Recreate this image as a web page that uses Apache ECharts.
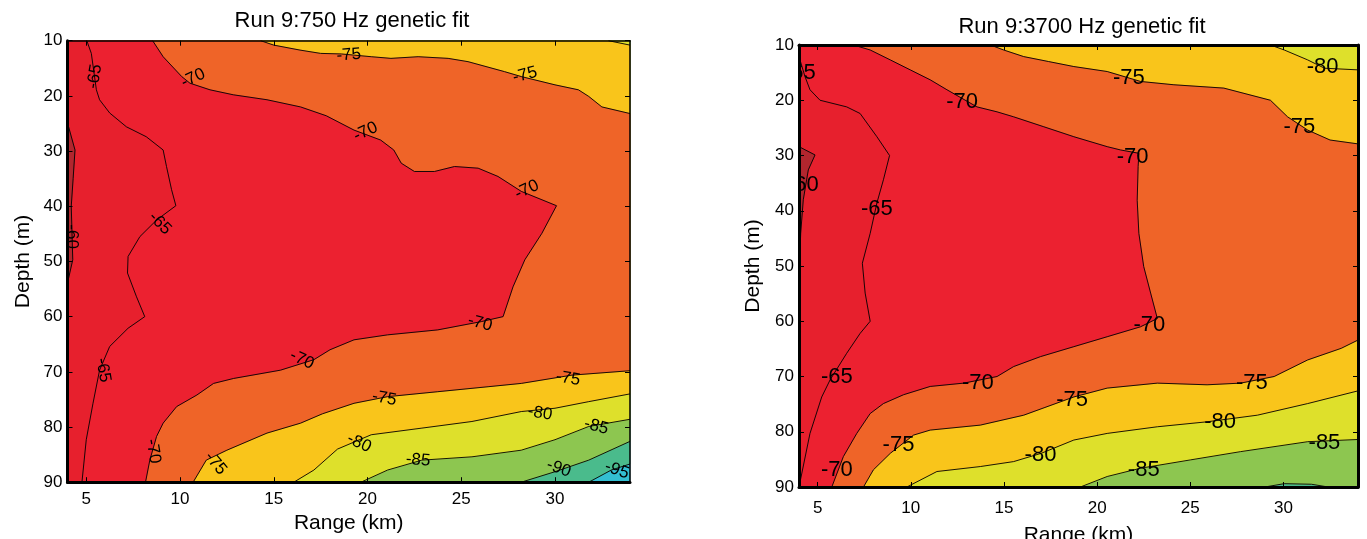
<!DOCTYPE html>
<html><head><meta charset="utf-8">
<script src="https://cdn.jsdelivr.net/npm/echarts@6/dist/echarts.min.js"></script>
<style>html,body{margin:0;padding:0;background:#fff}#c{width:1367px;height:539px}</style>
</head><body><div id="c"></div>
<script>
// ---------- axes ----------
const XMIN = 4, XMAX = 34, YMIN = 10, YMAX = 90;
const xTicks = [5, 10, 15, 20, 25, 30];
const titles = ['Run 9:750 Hz genetic fit', 'Run 9:3700 Hz genetic fit'];

// ---------- left panel (750 Hz) contour lines [range km, depth m] ----------
const A_m60 = [[4,24.9],[4.4,29.8],[4.3,35],[4.2,40],[4.28,49.7],[4,53.9]];
const A_m65 = [[5.03,10],[5.27,12.3],[5.54,18.9],[5.71,20.7],[6.25,23.1],[7.14,25.6],[8.2,27.4],[9.1,29.8],[9.28,32.8],[9.55,37],[9.78,39.9],[8.75,42.5],[7.86,45.5],[7.23,49.1],[7.2,52.1],[7.68,56.4],[8.12,60],[7.23,62.1],[6.25,65.4],[5.71,69.7],[5.36,75.7],[5,82.3],[4.77,90]];
const A_m70 = [[8.54,10],[9.1,12.9],[10.09,16.5],[10.53,17.7],[11.6,18.9],[12.84,19.8],[14.64,20.7],[16.43,22],[17.8,23.6],[19.28,26.2],[20.7,28],[21.4,29.8],[21.8,32.2],[22.5,33.7],[23.57,33.7],[24.64,32.8],[25.9,33.1],[26.96,34.6],[28.2,37.3],[30.08,39.9],[29.3,44.9],[28.39,49.7],[27.76,54.6],[27.23,60],[26.07,60.9],[23.75,62.4],[21.07,63.3],[19.28,64.2],[18.0,66.0],[17.14,67.8],[15.36,69.7],[12.86,71.2],[11.79,72.1],[10.9,74.2],[9.82,76.3],[9.1,79.3],[8.75,81.7],[8.39,86],[8.16,90]];
const A_m75u = [[14.3,10],[15,10.8],[16.4,11.7],[17.5,12.3],[18.6,12.4],[20.2,12.9],[21.25,13.2],[22.7,12.9],[24.3,13.2],[25.36,13.8],[27.3,15.6],[28.2,16.5],[30,18],[31.25,18.9],[31.8,20.1],[32.5,22],[34,23.2]];
const A_m75l = [[10.7,90],[11.4,86],[12.5,84.2],[14.64,81.1],[16.43,79.3],[17.6,77.6],[19.28,75.7],[21.07,74.5],[23.75,73.6],[26.43,72.7],[28.2,72.1],[30.9,70.6],[34,69.8]];
const A_m80u = [[32.85,10],[34,10.8]];
const A_m80l = [[16.07,90],[17.14,87.8],[18.4,84],[20.2,81.4],[22.9,80.2],[25.57,79],[28.2,77.2],[30,76.6],[31.8,75.4],[34,74]];
const A_m85 = [[19.65,90],[21.07,87.8],[22.9,86],[25.57,85.4],[28.2,84.2],[30,82.3],[31.8,79.9],[34,78.6]];
const A_m90 = [[28.2,90],[30,88.1],[31.8,86],[34,82.6]];
const A_m95 = [[31.8,90],[33,87.8],[34,86.7]];
const A_labels = [[5.45,16.5,'-65'],[10.7,16.8,'-70'],[19,12.6,'-75'],[28.4,16.2,'-75'],[19.9,26.5,'-70'],[28.5,37,'-70'],[8.93,43.1,'-65'],[4.2,45.5,'-60'],[5.9,69.7,'-65'],[8.57,84.4,'-70'],[11.9,86.6,'-75'],[16.5,67.8,'-70'],[26,61.2,'-70'],[20.9,74.8,'-75'],[30.7,71.2,'-75'],[19.55,82.9,'-80'],[29.2,77.5,'-80'],[22.7,86,'-85'],[32.2,79.9,'-85'],[30.2,87.5,'-90'],[33.3,87.8,'-95']];
const A_labelAngles = [80,25,5,15,25,25,-45,-90,-80,-80,-50,-25,-15,-10,-10,-25,-10,-5,-15,-20,-20];

// ---------- right panel (3700 Hz) contour lines ----------
const B_m60 = [[4,28.4],[4.86,29.9],[4.5,32.6],[4.23,38],[4.09,44.1],[4.02,50.7],[4,55]];
const B_m65 = [[4,12.1],[4.32,15.7],[4.59,18.1],[5.13,20],[6.56,21.2],[7.28,22.4],[8.18,26.6],[8.86,30],[8.53,34.4],[8.18,38.6],[7.82,44.1],[7.4,49.5],[7.55,54.9],[7.82,60],[7.28,62.2],[6.56,65.8],[5.67,70.6],[5.22,73.7],[4.59,80.3],[4,90]];
const B_m70 = [[6.92,10],[7.82,10.9],[8.9,12.7],[9.97,14.5],[11.04,16.3],[11.94,18.1],[13.55,21.2],[14.63,22.1],[15.52,23],[17.14,24.8],[18.75,26.6],[20.54,28.4],[21.26,29],[22.24,29.6],[22.2,32],[22.15,38.1],[22.24,44.1],[22.5,50.1],[22.87,54.9],[23.23,59.5],[22.33,61],[20.54,62.8],[18.75,64.6],[16.96,66.4],[15.52,68.2],[14.63,70],[12.84,71.2],[11.04,71.8],[9.61,73.3],[8.53,74.9],[7.82,76.7],[7.1,80.3],[6.38,84.5],[5.76,90]];
const B_m75u = [[14.27,10],[14.98,10.9],[16.06,12.1],[17.4,13.0],[18.75,13.9],[20.54,14.8],[22.33,16.6],[24.12,17.2],[26.8,17.8],[29.3,20],[30.22,23],[31.3,25.4],[32.5,27.2],[34,27.9]];
const B_m75l = [[7.46,90],[7.99,86.9],[8.9,83.9],[10.15,80.6],[11.04,79.7],[13.73,78.8],[16.06,77],[17.2,75.6],[18.75,73.7],[20.54,72.1],[23.23,71.2],[25.9,71.5],[27.7,71.2],[29.5,70],[31.3,67],[33.1,64.9],[34,63.4]];
const B_m80u = [[29.3,10],[30.04,10.9],[31.3,12.7],[32.2,14.2],[34,14.5]];
const B_m80l = [[9.79,90],[11.4,87.2],[13.73,86.3],[15.52,85.4],[17.0,83.9],[18.75,81.5],[20.54,80.3],[23.23,79.1],[25.9,78.2],[28.6,77],[31.3,74.9],[34,72.6]];
const B_m85 = [[19.1,90],[20.54,88.1],[22.33,86.6],[25,85.1],[27.7,83.6],[31.3,81.8],[34,81.4]];
const B_m90 = [[29,90],[30.04,89.4],[31.5,89.5],[32.4,90]];
const B_labels = [[4.05,15,'-65'],[4.2,35.3,'-60'],[8.18,39.6,'-65'],[12.75,20.3,'-70'],[21.7,16,'-75'],[32.1,13.9,'-80'],[30.85,24.8,'-75'],[21.9,30.2,'-70'],[22.8,60.7,'-70'],[6.03,70,'-65'],[13.6,71.2,'-70'],[9.34,82.4,'-75'],[6.03,86.9,'-70'],[16.96,84.2,'-80'],[18.66,74.3,'-75'],[28.3,71.2,'-75'],[26.6,78.2,'-80'],[22.5,86.9,'-85'],[32.2,82.1,'-85']];

// ---------- band colours ----------
const C = {
  gt60: '#B2262E', b65: '#E7202D', b70: '#EC2130', b75: '#EF6428', b80: '#F9C51B',
  b85: '#DEE02B', b90: '#8DC650', b95: '#4ABB8C', lt95: '#33BFD2'
};
const FONT = 'Liberation Sans, Arial, Helvetica, sans-serif';

const TL = [XMIN, YMIN], TR = [XMAX, YMIN], BL = [XMIN, YMAX], BR = [XMAX, YMAX];
const rev = a => a.slice().reverse();

const regionsA = [
  {c: C.lt95, pts: [TL, TR, BR, BL]},
  {c: C.b95, pts: [...A_m95, TR, TL, BL]},
  {c: C.b90, pts: [...A_m90, TR, TL, BL]},
  {c: C.b85, pts: [...A_m85, TR, TL, BL]},
  {c: C.b80, pts: [...A_m80l, ...rev(A_m80u), TL, BL]},
  {c: C.b75, pts: [...A_m75l, ...rev(A_m75u), TL, BL]},
  {c: C.b70, pts: [...A_m70, BL, TL]},
  {c: C.b65, pts: [...A_m65, BL, TL]},
  {c: C.gt60, pts: A_m60}
];
const regionsB = [
  {c: C.b95, pts: [TL, TR, BR, BL]},
  {c: C.b90, pts: [BL, ...B_m90, BR, TR, TL]},
  {c: C.b85, pts: [...B_m85, TR, TL, BL]},
  {c: C.b80, pts: [...B_m80l, ...rev(B_m80u), TL, BL]},
  {c: C.b75, pts: [...B_m75l, ...rev(B_m75u), TL, BL]},
  {c: C.b70, pts: [...B_m70, BL, TL]},
  {c: C.b65, pts: [...B_m65, BL]},
  {c: C.gt60, pts: B_m60}
];
const linesA = [A_m60, A_m65, A_m70, A_m75u, A_m75l, A_m80u, A_m80l, A_m85, A_m90, A_m95];
const linesB = [B_m60, B_m65, B_m70, B_m75u, B_m75l, B_m80u, B_m80l, B_m85, B_m90];

function fillSeries(regions, ai) {
  return {type: 'custom', xAxisIndex: ai, yAxisIndex: ai, z: 1, silent: true, animation: false,
    data: regions.map(() => [XMIN, YMIN]),
    renderItem: (params, api) => {
      const r = regions[params.dataIndex];
      return {type: 'polygon', shape: {points: r.pts.map(p => api.coord(p))},
        style: {fill: r.c, stroke: r.c, lineWidth: 0.6}};
    }};
}
function lineSeries(pts, ai) {
  return {type: 'line', xAxisIndex: ai, yAxisIndex: ai, data: pts, symbol: 'none', showSymbol: false,
    lineStyle: {color: '#000', width: 0.9}, z: 3, silent: true, animation: false};
}
function labelSeries(labels, angles, ai, size) {
  return {type: 'custom', xAxisIndex: ai, yAxisIndex: ai, z: 4, silent: true, animation: false,
    data: labels.map(l => [l[0], l[1]]),
    renderItem: (params, api) => {
      const l = labels[params.dataIndex];
      const p = api.coord([l[0], l[1]]);
      const cs = params.coordSys;
      const ang = angles ? angles[params.dataIndex] : 0;
      return {type: 'group', clipPath: {type: 'rect', shape: {x: cs.x, y: cs.y, width: cs.width, height: cs.height}},
        children: [{type: 'text', x: p[0], y: p[1], rotation: ang * Math.PI / 180,
          style: {text: l[2], fill: '#000', font: size + 'px ' + FONT, align: 'center', verticalAlign: 'middle'}}]};
    }};
}

const grids = [
  {left: 67.5, top: 40.7, width: 562.5, height: 441.5, containLabel: false, outerBoundsMode: 'none'},
  {left: 799, top: 45, width: 559, height: 442, containLabel: false, outerBoundsMode: 'none'}
];
const frame = [
  {bottom: 3, top: 1.5, left: 3, right: 1.5, xGap: 31, yGap: 34, tick: 17, xMargin: 9},
  {bottom: 3, top: 3, left: 3, right: 3, xGap: 38, yGap: 35, tick: 17, xMargin: 13}
];
const xAxes = [], yAxes = [];
grids.forEach((g, i) => {
  const f = frame[i];
  xAxes.push({type: 'value', gridIndex: i, min: XMIN, max: XMAX, position: 'bottom', z: 10,
    axisLine: {show: true, onZero: false, lineStyle: {color: '#000', width: f.bottom}},
    axisTick: {show: true, inside: true, length: 5, customValues: xTicks, lineStyle: {color: '#000', width: 1}},
    axisLabel: {show: true, customValues: xTicks, color: '#000', fontSize: f.tick, fontFamily: FONT, margin: f.xMargin},
    splitLine: {show: false},
    name: 'Range (km)', nameLocation: 'middle', nameGap: f.xGap,
    nameTextStyle: {color: '#000', fontSize: 21, fontFamily: FONT}});
  xAxes.push({type: 'value', gridIndex: i, min: XMIN, max: XMAX, position: 'top', z: 10,
    axisLine: {show: true, onZero: false, lineStyle: {color: '#000', width: f.top}},
    axisTick: {show: true, inside: true, length: 5, customValues: xTicks, lineStyle: {color: '#000', width: 1}},
    axisLabel: {show: false}, splitLine: {show: false}});
  yAxes.push({type: 'value', gridIndex: i, min: YMIN, max: YMAX, interval: 10, inverse: true, position: 'left', z: 10,
    axisLine: {show: true, onZero: false, lineStyle: {color: '#000', width: f.left}},
    axisTick: {show: true, inside: true, length: 5, lineStyle: {color: '#000', width: 1}},
    axisLabel: {show: true, color: '#000', fontSize: f.tick, fontFamily: FONT, margin: 5},
    splitLine: {show: false},
    name: 'Depth (m)', nameLocation: 'middle', nameGap: f.yGap,
    nameTextStyle: {color: '#000', fontSize: 21, fontFamily: FONT}});
  yAxes.push({type: 'value', gridIndex: i, min: YMIN, max: YMAX, interval: 10, inverse: true, position: 'right', z: 10,
    axisLine: {show: true, onZero: false, lineStyle: {color: '#000', width: f.right}},
    axisTick: {show: true, inside: true, length: 5, lineStyle: {color: '#000', width: 1}},
    axisLabel: {show: false}, splitLine: {show: false}});
});

const series = [
  fillSeries(regionsA, 0), ...linesA.map(l => lineSeries(l, 0)), labelSeries(A_labels, A_labelAngles, 0, 17),
  fillSeries(regionsB, 2), ...linesB.map(l => lineSeries(l, 2)), labelSeries(B_labels, null, 2, 22)
];

const chart = echarts.init(document.getElementById('c'), null, {renderer: 'canvas'});
chart.setOption({
  animation: false,
  backgroundColor: '#fff',
  grid: grids,
  xAxis: xAxes,
  yAxis: yAxes,
  graphic: [
    {type: 'text', x: 352, y: 21, style: {text: titles[0], font: '22px ' + FONT, fill: '#000', align: 'center', verticalAlign: 'middle'}},
    {type: 'text', x: 1082, y: 26.5, style: {text: titles[1], font: '22px ' + FONT, fill: '#000', align: 'center', verticalAlign: 'middle'}}
  ],
  series: series
});
</script></body></html>
